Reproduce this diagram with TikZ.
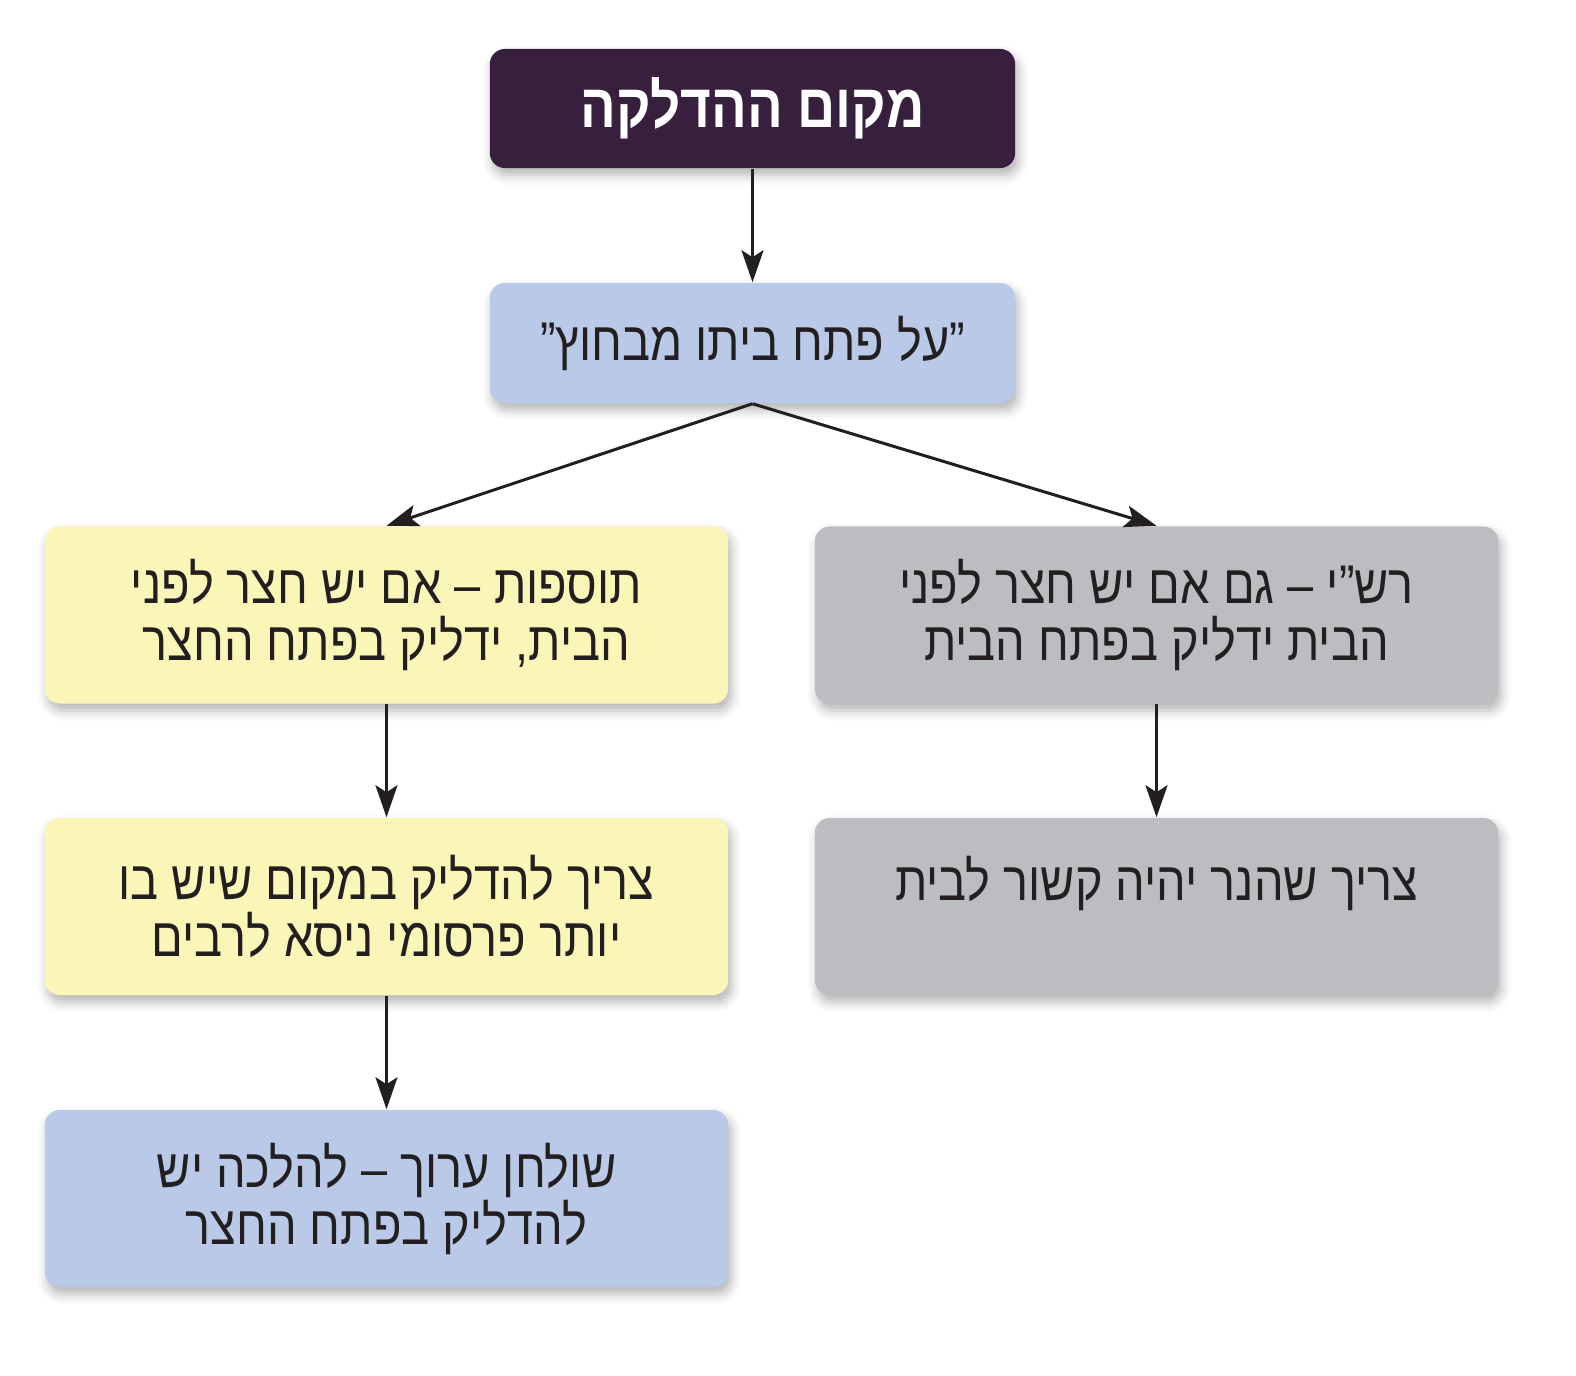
\documentclass[tikz,border=0pt]{standalone}
\usepackage{fontspec}
\newfontfamily\hebfont[Script=Hebrew,FakeStretch=0.86]{Liberation Sans}
\TeXXeTstate=1
\usetikzlibrary{arrows.meta,shadows.blur}
\definecolor{hpurple}{RGB}{56,31,61}
\definecolor{hblue}{RGB}{185,201,231}
\definecolor{hyellow}{RGB}{249,246,183}
\definecolor{hgrey}{RGB}{188,189,193}
\definecolor{hink}{RGB}{35,31,32}
\tikzset{
  box/.style={rounded corners=0.15cm,inner sep=0pt,align=center,text=hink,
    minimum width=6.83cm,minimum height=1.77cm,
    font=\hebfont\fontsize{15.5}{16.2}\selectfont,
    blur shadow={shadow xshift=0.03cm,shadow yshift=-0.07cm,shadow blur radius=0.1cm,shadow opacity=30}},
  topbox/.style={box,fill=hpurple,text=white,minimum width=5.25cm,minimum height=1.19cm,
    font=\hebfont\bfseries\fontsize{17.5}{21}\selectfont},
  arr/.style={draw=hink,line width=0.03cm,-{Stealth[length=0.32cm,width=0.22cm,inset=0.07cm]}},
}

\begin{document}
\begin{tikzpicture}[x=0.01cm,y=-0.01cm]
\useasboundingbox (0,0) rectangle (1576,1376);
\node[topbox] (t0) at (752.5,108.5) {\beginR מקום ההדלקה\endR};
\node[box,fill=hblue,minimum width=5.25cm,minimum height=1.2cm] (q0) at (752.5,343) {\beginR ”על פתח ביתו מבחוץ”\endR};
\node[box,fill=hyellow] (l1) at (386.5,615) {\beginR תוספות – אם יש חצר לפני\endR\\\beginR הבית, ידליק בפתח החצר\endR};
\node[box,fill=hgrey] (r1) at (1156.5,615) {\beginR רש”י – גם אם יש חצר לפני\endR\\\beginR הבית ידליק בפתח הבית\endR};
\node[box,fill=hyellow] (l2) at (386.5,906.5) {\beginR צריך להדליק במקום שיש בו\endR\\\beginR יותר פרסומי ניסא לרבים\endR};
\node[box,fill=hgrey] (r2) at (1156.5,906.5) {\beginR צריך שהנר יהיה קשור לבית\endR\\\mbox{}};
\node[box,fill=hblue] (l3) at (386.5,1198.5) {\beginR שולחן ערוך – להלכה יש\endR\\\beginR להדליק בפתח החצר\endR};
\draw[arr] (t0) -- (q0);
\draw[arr] (q0.south) -- (l1.north);
\draw[arr] (q0.south) -- (r1.north);
\draw[arr] (l1) -- (l2);
\draw[arr] (l2) -- (l3);
\draw[arr] (r1) -- (r2);
\end{tikzpicture}
\end{document}
